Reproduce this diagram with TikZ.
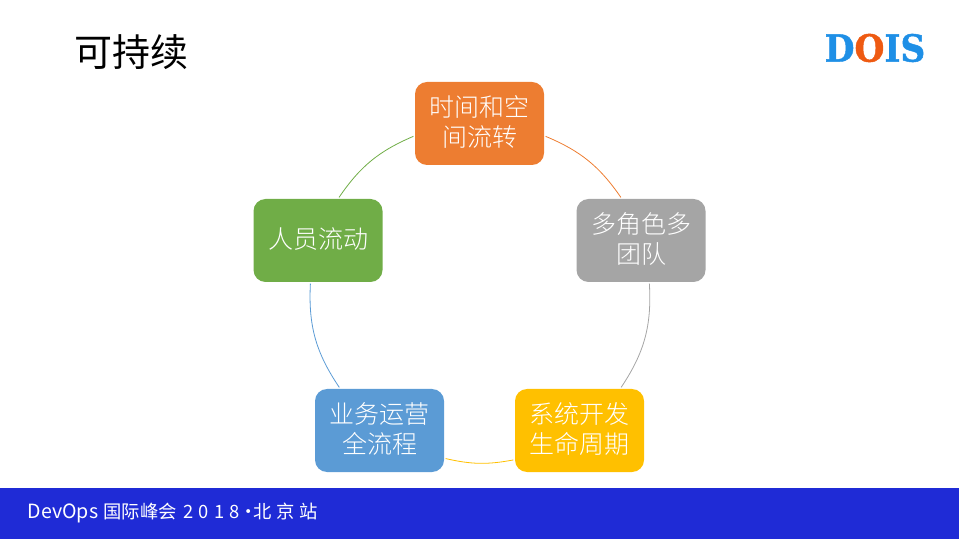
\documentclass[tikz,border=0pt]{standalone}
\usepackage{fontspec}
\usepackage{xcolor}
\setmainfont{Noto Sans CJK SC}
\newfontfamily\lightfont[UprightFont={* Light}]{Noto Sans CJK SC}
\newfontfamily\logofont[UprightFont={* Bold},FakeStretch=.92,FakeBold=1.2]{DejaVu Serif}
\definecolor{cOrange}{HTML}{ED7D31}
\definecolor{cGrey}{HTML}{A5A5A5}
\definecolor{cYellow}{HTML}{FFC000}
\definecolor{cBlue}{HTML}{5B9BD5}
\definecolor{cGreen}{HTML}{70AD47}
\definecolor{cBar}{HTML}{1F2BD6}
\definecolor{cLogoBlue}{HTML}{1E8FE6}
\definecolor{cLogoRed}{HTML}{EE5A12}
\newcommand{\topictext}[1]{\begin{tabular}{@{}c@{}}#1\\[-3.4pt]\end{tabular}}
\tikzset{
  topic/.style={rectangle, rounded corners=9pt, minimum width=96.75pt, minimum height=62.25pt,
    inner sep=0pt, outer sep=1.2pt, text=white,
    font=\lightfont\fontsize{18.75}{22.5}\selectfont},
  link/.style={line width=.6pt}
}
\begin{document}
\begin{tikzpicture}[x=.75pt, y=.75pt]
\useasboundingbox (0,0) rectangle (959,539);
\node[fill=cBar, minimum width=719.25pt, minimum height=38.25pt, inner sep=0pt, outer sep=0pt] (bar) at (479.5,25.5) {};
\node[inner sep=0pt, anchor=west, text=white, font=\fontsize{13.75}{16}\selectfont] (event) at (27.5,26) {{\fontsize{14.7}{16}\selectfont DevOps}\hspace{4pt}国际峰会\hspace{5pt}2\hspace{3.9pt}0\hspace{3.9pt}1\hspace{3.9pt}8\hspace{0pt}·\hspace{-3.6pt}北\hspace{3.4pt}京\hspace{3.4pt}站};
\node[inner sep=0pt, anchor=west, font=\fontsize{28.5}{34}\selectfont] (title) at (74,486.5) {可持续};
\node[inner sep=0pt, font=\logofont\fontsize{28}{32}\selectfont] (logo) at (875,491) {\textcolor{cLogoBlue}{D}\textcolor{cLogoRed}{O}\textcolor{cLogoBlue}{IS}};
\node[topic, fill=cOrange] (time) at (479.5,415.5) {\topictext{时间和空\\间流转}};
\node[topic, fill=cGrey] (roles) at (641,298.5) {\topictext{多角色多\\团队}};
\node[topic, fill=cYellow] (cycle) at (579.5,108.5) {\topictext{系统开发\\生命周期}};
\node[topic, fill=cBlue] (ops) at (379.5,108.5) {\topictext{业务运营\\全流程}};
\node[topic, fill=cGreen] (staff) at (318,298.5) {\topictext{人员流动}};
\draw[link, cOrange] (time.-11.5) to[bend left=16.3] (roles.115.8);
\draw[link, cGrey] (roles.-79.3) to[bend left=18.5] (cycle.46.3);
\draw[link, cYellow] (cycle.204.6) to[bend left=11.8] (ops.-23.9);
\draw[link, cBlue] (ops.133.7) to[bend left=18.5] (staff.-100.7);
\draw[link, cGreen] (staff.64.2) to[bend left=16.3] (time.191.5);
\end{tikzpicture}
\end{document}
